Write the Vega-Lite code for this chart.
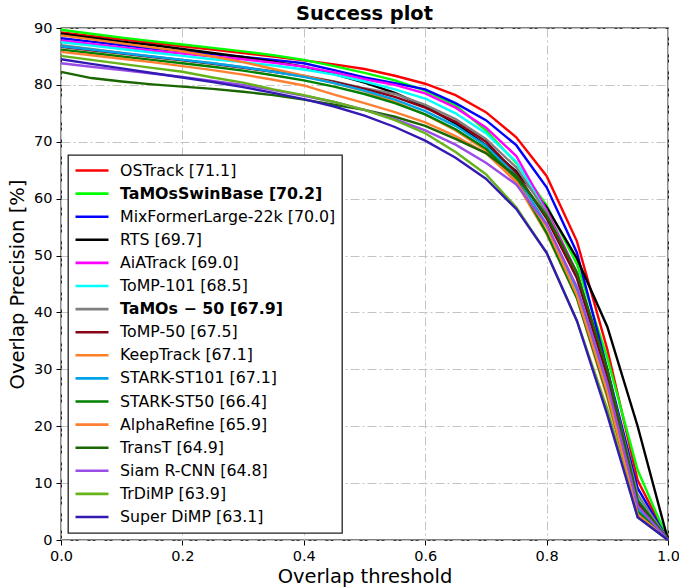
{
  "$schema": "https://vega.github.io/schema/vega-lite/v6.json",
  "autosize": "none",
  "width": 607,
  "height": 512,
  "padding": {"left": 61, "top": 28, "right": 11, "bottom": 48},
  "background": "white",
  "title": {"text": "Success plot", "fontSize": 19.4, "fontWeight": "bold", "font": "DejaVu Sans", "color": "black", "offset": -4, "anchor": "middle", "frame": "group"},
  "config": {
    "font": "DejaVu Sans",
    "view": {"stroke": "black", "strokeWidth": 1.3},
    "axis": {"labelFont": "DejaVu Sans", "titleFont": "DejaVu Sans", "labelFontSize": 14.5, "titleFontSize": 19.5, "titleFontWeight": "normal", "labelColor": "black", "titleColor": "black", "tickColor": "black", "tickSize": 5, "domain": false, "grid": true, "gridColor": "#c4c4c4", "gridDash": [9, 3, 2, 3], "gridWidth": 1, "labelPadding": 4, "labelFlush": false}
  },
  "data": {"values": [
    {"m":"OSTrack [71.1]","t":0,"v":89.2},{"m":"OSTrack [71.1]","t":0.05,"v":88.6},{"m":"OSTrack [71.1]","t":0.1,"v":88.0},{"m":"OSTrack [71.1]","t":0.15,"v":87.4},{"m":"OSTrack [71.1]","t":0.2,"v":86.8},{"m":"OSTrack [71.1]","t":0.25,"v":86.2},{"m":"OSTrack [71.1]","t":0.3,"v":85.6},{"m":"OSTrack [71.1]","t":0.35,"v":85.0},{"m":"OSTrack [71.1]","t":0.4,"v":84.3},{"m":"OSTrack [71.1]","t":0.45,"v":83.6},{"m":"OSTrack [71.1]","t":0.5,"v":82.8},{"m":"OSTrack [71.1]","t":0.55,"v":81.6},{"m":"OSTrack [71.1]","t":0.6,"v":80.2},{"m":"OSTrack [71.1]","t":0.65,"v":78.2},{"m":"OSTrack [71.1]","t":0.7,"v":75.2},{"m":"OSTrack [71.1]","t":0.75,"v":70.8},{"m":"OSTrack [71.1]","t":0.8,"v":64.0},{"m":"OSTrack [71.1]","t":0.85,"v":52.5},{"m":"OSTrack [71.1]","t":0.9,"v":33.5},{"m":"OSTrack [71.1]","t":0.95,"v":10.5},{"m":"OSTrack [71.1]","t":1,"v":0},
    {"m":"TaMOsSwinBase [70.2]","t":0,"v":89.7},{"m":"TaMOsSwinBase [70.2]","t":0.05,"v":89.0},{"m":"TaMOsSwinBase [70.2]","t":0.1,"v":88.3},{"m":"TaMOsSwinBase [70.2]","t":0.15,"v":87.7},{"m":"TaMOsSwinBase [70.2]","t":0.2,"v":87.1},{"m":"TaMOsSwinBase [70.2]","t":0.25,"v":86.5},{"m":"TaMOsSwinBase [70.2]","t":0.3,"v":85.9},{"m":"TaMOsSwinBase [70.2]","t":0.35,"v":85.2},{"m":"TaMOsSwinBase [70.2]","t":0.4,"v":84.4},{"m":"TaMOsSwinBase [70.2]","t":0.45,"v":83.3},{"m":"TaMOsSwinBase [70.2]","t":0.5,"v":82.1},{"m":"TaMOsSwinBase [70.2]","t":0.55,"v":80.8},{"m":"TaMOsSwinBase [70.2]","t":0.6,"v":79.0},{"m":"TaMOsSwinBase [70.2]","t":0.65,"v":76.4},{"m":"TaMOsSwinBase [70.2]","t":0.7,"v":72.0},{"m":"TaMOsSwinBase [70.2]","t":0.75,"v":66.3},{"m":"TaMOsSwinBase [70.2]","t":0.8,"v":58.8},{"m":"TaMOsSwinBase [70.2]","t":0.85,"v":48.5},{"m":"TaMOsSwinBase [70.2]","t":0.9,"v":32.0},{"m":"TaMOsSwinBase [70.2]","t":0.95,"v":12.3},{"m":"TaMOsSwinBase [70.2]","t":1,"v":0},
    {"m":"MixFormerLarge-22k [70.0]","t":0,"v":88.2},{"m":"MixFormerLarge-22k [70.0]","t":0.05,"v":87.6},{"m":"MixFormerLarge-22k [70.0]","t":0.1,"v":87.0},{"m":"MixFormerLarge-22k [70.0]","t":0.15,"v":86.4},{"m":"MixFormerLarge-22k [70.0]","t":0.2,"v":85.9},{"m":"MixFormerLarge-22k [70.0]","t":0.25,"v":85.4},{"m":"MixFormerLarge-22k [70.0]","t":0.3,"v":84.9},{"m":"MixFormerLarge-22k [70.0]","t":0.35,"v":84.4},{"m":"MixFormerLarge-22k [70.0]","t":0.4,"v":83.8},{"m":"MixFormerLarge-22k [70.0]","t":0.45,"v":82.6},{"m":"MixFormerLarge-22k [70.0]","t":0.5,"v":81.3},{"m":"MixFormerLarge-22k [70.0]","t":0.55,"v":80.3},{"m":"MixFormerLarge-22k [70.0]","t":0.6,"v":79.2},{"m":"MixFormerLarge-22k [70.0]","t":0.65,"v":76.8},{"m":"MixFormerLarge-22k [70.0]","t":0.7,"v":73.8},{"m":"MixFormerLarge-22k [70.0]","t":0.75,"v":69.4},{"m":"MixFormerLarge-22k [70.0]","t":0.8,"v":62.0},{"m":"MixFormerLarge-22k [70.0]","t":0.85,"v":50.5},{"m":"MixFormerLarge-22k [70.0]","t":0.9,"v":30.0},{"m":"MixFormerLarge-22k [70.0]","t":0.95,"v":9.1},{"m":"MixFormerLarge-22k [70.0]","t":1,"v":0},
    {"m":"RTS [69.7]","t":0,"v":89.0},{"m":"RTS [69.7]","t":0.05,"v":88.3},{"m":"RTS [69.7]","t":0.1,"v":87.6},{"m":"RTS [69.7]","t":0.15,"v":87.0},{"m":"RTS [69.7]","t":0.2,"v":86.3},{"m":"RTS [69.7]","t":0.25,"v":85.6},{"m":"RTS [69.7]","t":0.3,"v":84.9},{"m":"RTS [69.7]","t":0.35,"v":84.1},{"m":"RTS [69.7]","t":0.4,"v":83.2},{"m":"RTS [69.7]","t":0.45,"v":81.9},{"m":"RTS [69.7]","t":0.5,"v":80.4},{"m":"RTS [69.7]","t":0.55,"v":78.6},{"m":"RTS [69.7]","t":0.6,"v":76.2},{"m":"RTS [69.7]","t":0.65,"v":73.2},{"m":"RTS [69.7]","t":0.7,"v":69.4},{"m":"RTS [69.7]","t":0.75,"v":64.8},{"m":"RTS [69.7]","t":0.8,"v":58.5},{"m":"RTS [69.7]","t":0.85,"v":49.5},{"m":"RTS [69.7]","t":0.9,"v":37.5},{"m":"RTS [69.7]","t":0.95,"v":20.0},{"m":"RTS [69.7]","t":1,"v":0},
    {"m":"AiATrack [69.0]","t":0,"v":87.8},{"m":"AiATrack [69.0]","t":0.05,"v":87.2},{"m":"AiATrack [69.0]","t":0.1,"v":86.6},{"m":"AiATrack [69.0]","t":0.15,"v":86.0},{"m":"AiATrack [69.0]","t":0.2,"v":85.5},{"m":"AiATrack [69.0]","t":0.25,"v":85.0},{"m":"AiATrack [69.0]","t":0.3,"v":84.5},{"m":"AiATrack [69.0]","t":0.35,"v":83.9},{"m":"AiATrack [69.0]","t":0.4,"v":83.2},{"m":"AiATrack [69.0]","t":0.45,"v":82.2},{"m":"AiATrack [69.0]","t":0.5,"v":81.0},{"m":"AiATrack [69.0]","t":0.55,"v":80.0},{"m":"AiATrack [69.0]","t":0.6,"v":78.5},{"m":"AiATrack [69.0]","t":0.65,"v":76.0},{"m":"AiATrack [69.0]","t":0.7,"v":72.5},{"m":"AiATrack [69.0]","t":0.75,"v":67.5},{"m":"AiATrack [69.0]","t":0.8,"v":58.0},{"m":"AiATrack [69.0]","t":0.85,"v":47.0},{"m":"AiATrack [69.0]","t":0.9,"v":29.0},{"m":"AiATrack [69.0]","t":0.95,"v":7.0},{"m":"AiATrack [69.0]","t":1,"v":0},
    {"m":"ToMP-101 [68.5]","t":0,"v":87.5},{"m":"ToMP-101 [68.5]","t":0.05,"v":86.9},{"m":"ToMP-101 [68.5]","t":0.1,"v":86.3},{"m":"ToMP-101 [68.5]","t":0.15,"v":85.7},{"m":"ToMP-101 [68.5]","t":0.2,"v":85.1},{"m":"ToMP-101 [68.5]","t":0.25,"v":84.5},{"m":"ToMP-101 [68.5]","t":0.3,"v":84.0},{"m":"ToMP-101 [68.5]","t":0.35,"v":83.4},{"m":"ToMP-101 [68.5]","t":0.4,"v":82.7},{"m":"ToMP-101 [68.5]","t":0.45,"v":81.8},{"m":"ToMP-101 [68.5]","t":0.5,"v":80.6},{"m":"ToMP-101 [68.5]","t":0.55,"v":79.2},{"m":"ToMP-101 [68.5]","t":0.6,"v":77.6},{"m":"ToMP-101 [68.5]","t":0.65,"v":75.0},{"m":"ToMP-101 [68.5]","t":0.7,"v":71.5},{"m":"ToMP-101 [68.5]","t":0.75,"v":66.5},{"m":"ToMP-101 [68.5]","t":0.8,"v":57.5},{"m":"ToMP-101 [68.5]","t":0.85,"v":46.0},{"m":"ToMP-101 [68.5]","t":0.9,"v":28.5},{"m":"ToMP-101 [68.5]","t":0.95,"v":7.6},{"m":"ToMP-101 [68.5]","t":1,"v":0},
    {"m":"TaMOs − 50 [67.9]","t":0,"v":87.0},{"m":"TaMOs − 50 [67.9]","t":0.05,"v":86.3},{"m":"TaMOs − 50 [67.9]","t":0.1,"v":85.6},{"m":"TaMOs − 50 [67.9]","t":0.15,"v":85.0},{"m":"TaMOs − 50 [67.9]","t":0.2,"v":84.4},{"m":"TaMOs − 50 [67.9]","t":0.25,"v":83.8},{"m":"TaMOs − 50 [67.9]","t":0.3,"v":83.1},{"m":"TaMOs − 50 [67.9]","t":0.35,"v":82.4},{"m":"TaMOs − 50 [67.9]","t":0.4,"v":81.6},{"m":"TaMOs − 50 [67.9]","t":0.45,"v":80.6},{"m":"TaMOs − 50 [67.9]","t":0.5,"v":79.4},{"m":"TaMOs − 50 [67.9]","t":0.55,"v":78.4},{"m":"TaMOs − 50 [67.9]","t":0.6,"v":76.5},{"m":"TaMOs − 50 [67.9]","t":0.65,"v":74.0},{"m":"TaMOs − 50 [67.9]","t":0.7,"v":70.5},{"m":"TaMOs − 50 [67.9]","t":0.75,"v":65.5},{"m":"TaMOs − 50 [67.9]","t":0.8,"v":57.5},{"m":"TaMOs − 50 [67.9]","t":0.85,"v":46.5},{"m":"TaMOs − 50 [67.9]","t":0.9,"v":29.5},{"m":"TaMOs − 50 [67.9]","t":0.95,"v":8.0},{"m":"TaMOs − 50 [67.9]","t":1,"v":0},
    {"m":"ToMP-50 [67.5]","t":0,"v":86.7},{"m":"ToMP-50 [67.5]","t":0.05,"v":86.1},{"m":"ToMP-50 [67.5]","t":0.1,"v":85.5},{"m":"ToMP-50 [67.5]","t":0.15,"v":84.9},{"m":"ToMP-50 [67.5]","t":0.2,"v":84.3},{"m":"ToMP-50 [67.5]","t":0.25,"v":83.7},{"m":"ToMP-50 [67.5]","t":0.3,"v":83.0},{"m":"ToMP-50 [67.5]","t":0.35,"v":82.3},{"m":"ToMP-50 [67.5]","t":0.4,"v":81.5},{"m":"ToMP-50 [67.5]","t":0.45,"v":80.5},{"m":"ToMP-50 [67.5]","t":0.5,"v":79.3},{"m":"ToMP-50 [67.5]","t":0.55,"v":77.9},{"m":"ToMP-50 [67.5]","t":0.6,"v":76.0},{"m":"ToMP-50 [67.5]","t":0.65,"v":73.5},{"m":"ToMP-50 [67.5]","t":0.7,"v":70.0},{"m":"ToMP-50 [67.5]","t":0.75,"v":64.5},{"m":"ToMP-50 [67.5]","t":0.8,"v":56.5},{"m":"ToMP-50 [67.5]","t":0.85,"v":46.0},{"m":"ToMP-50 [67.5]","t":0.9,"v":28.8},{"m":"ToMP-50 [67.5]","t":0.95,"v":6.5},{"m":"ToMP-50 [67.5]","t":1,"v":0},
    {"m":"KeepTrack [67.1]","t":0,"v":88.7},{"m":"KeepTrack [67.1]","t":0.05,"v":88.0},{"m":"KeepTrack [67.1]","t":0.1,"v":87.3},{"m":"KeepTrack [67.1]","t":0.15,"v":86.6},{"m":"KeepTrack [67.1]","t":0.2,"v":85.9},{"m":"KeepTrack [67.1]","t":0.25,"v":85.0},{"m":"KeepTrack [67.1]","t":0.3,"v":84.0},{"m":"KeepTrack [67.1]","t":0.35,"v":82.8},{"m":"KeepTrack [67.1]","t":0.4,"v":81.6},{"m":"KeepTrack [67.1]","t":0.45,"v":80.3},{"m":"KeepTrack [67.1]","t":0.5,"v":78.9},{"m":"KeepTrack [67.1]","t":0.55,"v":77.0},{"m":"KeepTrack [67.1]","t":0.6,"v":74.8},{"m":"KeepTrack [67.1]","t":0.65,"v":72.0},{"m":"KeepTrack [67.1]","t":0.7,"v":68.5},{"m":"KeepTrack [67.1]","t":0.75,"v":62.8},{"m":"KeepTrack [67.1]","t":0.8,"v":53.8},{"m":"KeepTrack [67.1]","t":0.85,"v":42.5},{"m":"KeepTrack [67.1]","t":0.9,"v":25.0},{"m":"KeepTrack [67.1]","t":0.95,"v":4.5},{"m":"KeepTrack [67.1]","t":1,"v":0},
    {"m":"STARK-ST101 [67.1]","t":0,"v":86.8},{"m":"STARK-ST101 [67.1]","t":0.05,"v":86.2},{"m":"STARK-ST101 [67.1]","t":0.1,"v":85.6},{"m":"STARK-ST101 [67.1]","t":0.15,"v":85.0},{"m":"STARK-ST101 [67.1]","t":0.2,"v":84.4},{"m":"STARK-ST101 [67.1]","t":0.25,"v":83.8},{"m":"STARK-ST101 [67.1]","t":0.3,"v":83.1},{"m":"STARK-ST101 [67.1]","t":0.35,"v":82.3},{"m":"STARK-ST101 [67.1]","t":0.4,"v":81.4},{"m":"STARK-ST101 [67.1]","t":0.45,"v":80.3},{"m":"STARK-ST101 [67.1]","t":0.5,"v":79.0},{"m":"STARK-ST101 [67.1]","t":0.55,"v":77.4},{"m":"STARK-ST101 [67.1]","t":0.6,"v":75.4},{"m":"STARK-ST101 [67.1]","t":0.65,"v":72.8},{"m":"STARK-ST101 [67.1]","t":0.7,"v":69.3},{"m":"STARK-ST101 [67.1]","t":0.75,"v":64.0},{"m":"STARK-ST101 [67.1]","t":0.8,"v":55.5},{"m":"STARK-ST101 [67.1]","t":0.85,"v":44.0},{"m":"STARK-ST101 [67.1]","t":0.9,"v":26.5},{"m":"STARK-ST101 [67.1]","t":0.95,"v":5.5},{"m":"STARK-ST101 [67.1]","t":1,"v":0},
    {"m":"STARK-ST50 [66.4]","t":0,"v":86.2},{"m":"STARK-ST50 [66.4]","t":0.05,"v":85.6},{"m":"STARK-ST50 [66.4]","t":0.1,"v":85.0},{"m":"STARK-ST50 [66.4]","t":0.15,"v":84.4},{"m":"STARK-ST50 [66.4]","t":0.2,"v":83.8},{"m":"STARK-ST50 [66.4]","t":0.25,"v":83.2},{"m":"STARK-ST50 [66.4]","t":0.3,"v":82.5},{"m":"STARK-ST50 [66.4]","t":0.35,"v":81.7},{"m":"STARK-ST50 [66.4]","t":0.4,"v":80.8},{"m":"STARK-ST50 [66.4]","t":0.45,"v":79.7},{"m":"STARK-ST50 [66.4]","t":0.5,"v":78.4},{"m":"STARK-ST50 [66.4]","t":0.55,"v":76.8},{"m":"STARK-ST50 [66.4]","t":0.6,"v":74.8},{"m":"STARK-ST50 [66.4]","t":0.65,"v":72.2},{"m":"STARK-ST50 [66.4]","t":0.7,"v":68.8},{"m":"STARK-ST50 [66.4]","t":0.75,"v":63.5},{"m":"STARK-ST50 [66.4]","t":0.8,"v":54.0},{"m":"STARK-ST50 [66.4]","t":0.85,"v":42.5},{"m":"STARK-ST50 [66.4]","t":0.9,"v":25.5},{"m":"STARK-ST50 [66.4]","t":0.95,"v":5.0},{"m":"STARK-ST50 [66.4]","t":1,"v":0},
    {"m":"AlphaRefine [65.9]","t":0,"v":85.8},{"m":"AlphaRefine [65.9]","t":0.05,"v":85.2},{"m":"AlphaRefine [65.9]","t":0.1,"v":84.6},{"m":"AlphaRefine [65.9]","t":0.15,"v":84.0},{"m":"AlphaRefine [65.9]","t":0.2,"v":83.3},{"m":"AlphaRefine [65.9]","t":0.25,"v":82.6},{"m":"AlphaRefine [65.9]","t":0.3,"v":81.8},{"m":"AlphaRefine [65.9]","t":0.35,"v":80.9},{"m":"AlphaRefine [65.9]","t":0.4,"v":79.9},{"m":"AlphaRefine [65.9]","t":0.45,"v":78.3},{"m":"AlphaRefine [65.9]","t":0.5,"v":76.8},{"m":"AlphaRefine [65.9]","t":0.55,"v":75.2},{"m":"AlphaRefine [65.9]","t":0.6,"v":73.4},{"m":"AlphaRefine [65.9]","t":0.65,"v":71.0},{"m":"AlphaRefine [65.9]","t":0.7,"v":68.0},{"m":"AlphaRefine [65.9]","t":0.75,"v":63.0},{"m":"AlphaRefine [65.9]","t":0.8,"v":55.0},{"m":"AlphaRefine [65.9]","t":0.85,"v":43.0},{"m":"AlphaRefine [65.9]","t":0.9,"v":26.0},{"m":"AlphaRefine [65.9]","t":0.95,"v":4.5},{"m":"AlphaRefine [65.9]","t":1,"v":0},
    {"m":"TransT [64.9]","t":0,"v":82.3},{"m":"TransT [64.9]","t":0.05,"v":81.2},{"m":"TransT [64.9]","t":0.1,"v":80.6},{"m":"TransT [64.9]","t":0.15,"v":80.1},{"m":"TransT [64.9]","t":0.2,"v":79.7},{"m":"TransT [64.9]","t":0.25,"v":79.3},{"m":"TransT [64.9]","t":0.3,"v":78.8},{"m":"TransT [64.9]","t":0.35,"v":78.2},{"m":"TransT [64.9]","t":0.4,"v":77.4},{"m":"TransT [64.9]","t":0.45,"v":76.5},{"m":"TransT [64.9]","t":0.5,"v":75.6},{"m":"TransT [64.9]","t":0.55,"v":74.4},{"m":"TransT [64.9]","t":0.6,"v":72.8},{"m":"TransT [64.9]","t":0.65,"v":70.5},{"m":"TransT [64.9]","t":0.7,"v":68.0},{"m":"TransT [64.9]","t":0.75,"v":64.0},{"m":"TransT [64.9]","t":0.8,"v":57.0},{"m":"TransT [64.9]","t":0.85,"v":47.0},{"m":"TransT [64.9]","t":0.9,"v":30.0},{"m":"TransT [64.9]","t":0.95,"v":7.0},{"m":"TransT [64.9]","t":1,"v":0},
    {"m":"Siam R-CNN [64.8]","t":0,"v":83.8},{"m":"Siam R-CNN [64.8]","t":0.05,"v":83.2},{"m":"Siam R-CNN [64.8]","t":0.1,"v":82.6},{"m":"Siam R-CNN [64.8]","t":0.15,"v":82.0},{"m":"Siam R-CNN [64.8]","t":0.2,"v":81.4},{"m":"Siam R-CNN [64.8]","t":0.25,"v":80.7},{"m":"Siam R-CNN [64.8]","t":0.3,"v":80.0},{"m":"Siam R-CNN [64.8]","t":0.35,"v":79.1},{"m":"Siam R-CNN [64.8]","t":0.4,"v":78.1},{"m":"Siam R-CNN [64.8]","t":0.45,"v":77.0},{"m":"Siam R-CNN [64.8]","t":0.5,"v":75.6},{"m":"Siam R-CNN [64.8]","t":0.55,"v":74.0},{"m":"Siam R-CNN [64.8]","t":0.6,"v":72.0},{"m":"Siam R-CNN [64.8]","t":0.65,"v":69.5},{"m":"Siam R-CNN [64.8]","t":0.7,"v":66.3},{"m":"Siam R-CNN [64.8]","t":0.75,"v":62.5},{"m":"Siam R-CNN [64.8]","t":0.8,"v":55.5},{"m":"Siam R-CNN [64.8]","t":0.85,"v":44.5},{"m":"Siam R-CNN [64.8]","t":0.9,"v":27.5},{"m":"Siam R-CNN [64.8]","t":0.95,"v":6.0},{"m":"Siam R-CNN [64.8]","t":1,"v":0},
    {"m":"TrDiMP [63.9]","t":0,"v":85.1},{"m":"TrDiMP [63.9]","t":0.05,"v":84.4},{"m":"TrDiMP [63.9]","t":0.1,"v":83.7},{"m":"TrDiMP [63.9]","t":0.15,"v":83.0},{"m":"TrDiMP [63.9]","t":0.2,"v":82.3},{"m":"TrDiMP [63.9]","t":0.25,"v":81.3},{"m":"TrDiMP [63.9]","t":0.3,"v":80.4},{"m":"TrDiMP [63.9]","t":0.35,"v":79.2},{"m":"TrDiMP [63.9]","t":0.4,"v":78.2},{"m":"TrDiMP [63.9]","t":0.45,"v":77.0},{"m":"TrDiMP [63.9]","t":0.5,"v":75.6},{"m":"TrDiMP [63.9]","t":0.55,"v":73.8},{"m":"TrDiMP [63.9]","t":0.6,"v":71.5},{"m":"TrDiMP [63.9]","t":0.65,"v":68.2},{"m":"TrDiMP [63.9]","t":0.7,"v":64.3},{"m":"TrDiMP [63.9]","t":0.75,"v":58.5},{"m":"TrDiMP [63.9]","t":0.8,"v":50.5},{"m":"TrDiMP [63.9]","t":0.85,"v":38.5},{"m":"TrDiMP [63.9]","t":0.9,"v":23.0},{"m":"TrDiMP [63.9]","t":0.95,"v":4.0},{"m":"TrDiMP [63.9]","t":1,"v":0},
    {"m":"Super DiMP [63.1]","t":0,"v":84.5},{"m":"Super DiMP [63.1]","t":0.05,"v":83.7},{"m":"Super DiMP [63.1]","t":0.1,"v":82.9},{"m":"Super DiMP [63.1]","t":0.15,"v":82.1},{"m":"Super DiMP [63.1]","t":0.2,"v":81.3},{"m":"Super DiMP [63.1]","t":0.25,"v":80.5},{"m":"Super DiMP [63.1]","t":0.3,"v":79.6},{"m":"Super DiMP [63.1]","t":0.35,"v":78.6},{"m":"Super DiMP [63.1]","t":0.4,"v":77.5},{"m":"Super DiMP [63.1]","t":0.45,"v":76.2},{"m":"Super DiMP [63.1]","t":0.5,"v":74.6},{"m":"Super DiMP [63.1]","t":0.55,"v":72.6},{"m":"Super DiMP [63.1]","t":0.6,"v":70.2},{"m":"Super DiMP [63.1]","t":0.65,"v":67.2},{"m":"Super DiMP [63.1]","t":0.7,"v":63.5},{"m":"Super DiMP [63.1]","t":0.75,"v":58.2},{"m":"Super DiMP [63.1]","t":0.8,"v":50.5},{"m":"Super DiMP [63.1]","t":0.85,"v":38.5},{"m":"Super DiMP [63.1]","t":0.9,"v":22.0},{"m":"Super DiMP [63.1]","t":0.95,"v":4.0},{"m":"Super DiMP [63.1]","t":1,"v":0}
  ]},
  "mark": {"type": "line", "strokeWidth": 2.4, "interpolate": "linear"},
  "encoding": {
    "x": {"field": "t", "type": "quantitative", "scale": {"domain": [0, 1], "nice": false, "zero": false},
      "axis": {"title": "Overlap threshold", "values": [0, 0.2, 0.4, 0.6, 0.8, 1.0], "format": ".1f", "titlePadding": 5}},
    "y": {"field": "v", "type": "quantitative", "scale": {"domain": [0, 90], "nice": false},
      "axis": {"title": "Overlap Precision [%]", "values": [0, 10, 20, 30, 40, 50, 60, 70, 80, 90], "titlePadding": 6}},
    "color": {"field": "m", "type": "nominal",
      "scale": {
        "domain": ["OSTrack [71.1]", "TaMOsSwinBase [70.2]", "MixFormerLarge-22k [70.0]", "RTS [69.7]", "AiATrack [69.0]", "ToMP-101 [68.5]", "TaMOs − 50 [67.9]", "ToMP-50 [67.5]", "KeepTrack [67.1]", "STARK-ST101 [67.1]", "STARK-ST50 [66.4]", "AlphaRefine [65.9]", "TransT [64.9]", "Siam R-CNN [64.8]", "TrDiMP [63.9]", "Super DiMP [63.1]"],
        "range": ["#ff0000", "#00ff00", "#0000ff", "#000000", "#ff00ff", "#00ffff", "#808080", "#880015", "#ff7f27", "#00a2e8", "#008000", "#ff8033", "#1a6600", "#994de6", "#66b31a", "#331ab3"]
      },
      "legend": {
        "title": null, "orient": "bottom-left", "offset": 7,
        "symbolType": "stroke", "symbolSize": 1089, "symbolStrokeWidth": 2.6,
        "clipHeight": 19, "rowPadding": 4.1,
        "labelFont": "DejaVu Sans", "labelFontSize": 15.8, "labelColor": "black", "labelOffset": 10, "labelLimit": 400,
        "padding": 6, "strokeColor": "#222222", "fillColor": "white", "cornerRadius": 0,
        "encode": {
          "legend": {"update": {"strokeWidth": {"value": 1.3}}},
          "labels": {"update": {"fontWeight": {"signal": "datum.value == 'TaMOsSwinBase [70.2]' || datum.value == 'TaMOs − 50 [67.9]' ? 'bold' : 'normal'"}}}
        }
      }
    }
  }
}
